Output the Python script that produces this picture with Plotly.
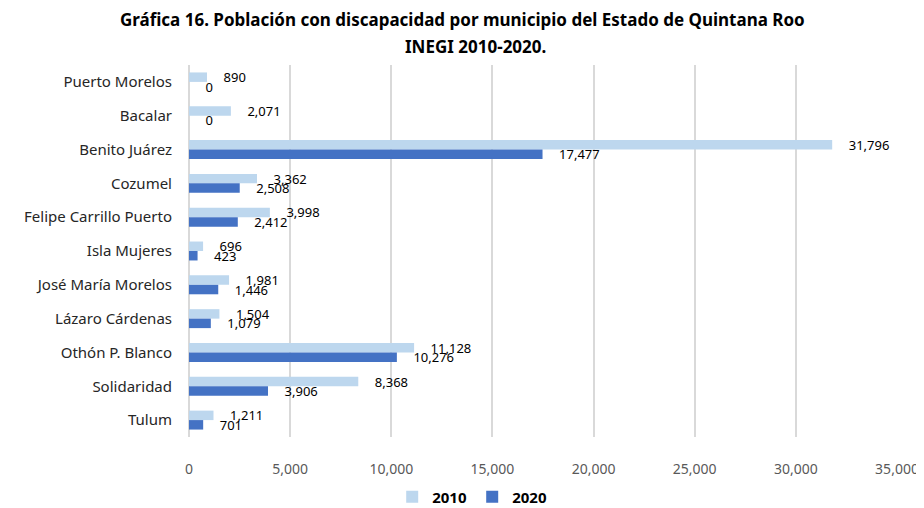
import plotly.graph_objects as go

# ── Data ──────────────────────────────────────────────────────────────────────
MUNICIPIOS = [
    "Puerto Morelos", "Bacalar", "Benito Juárez", "Cozumel",
    "Felipe Carrillo Puerto", "Isla Mujeres", "José María Morelos",
    "Lázaro Cárdenas", "Othón P. Blanco", "Solidaridad", "Tulum",
]
POB_2010 = [890, 2071, 31796, 3362, 3998, 696, 1981, 1504, 11128, 8368, 1211]
POB_2020 = [0, 0, 17477, 2508, 2412, 423, 1446, 1079, 10276, 3906, 701]

X_TICKS = [0, 5000, 10000, 15000, 20000, 25000, 30000, 35000]

# ── Colors ────────────────────────────────────────────────────────────────────
LIGHT = "#BDD7EE"
DARK = "#4472C4"
GRID = "#D9D9D9"
FONT = "Noto Sans"

# page body adds an 8px margin, so the figure is drawn 8px smaller
W, H = 916, 500
PAD = "\u00a0" * 4  # push value labels away from the bar end, like Excel

fig = go.Figure()
for name, vals, color in [("2010", POB_2010, LIGHT), ("2020", POB_2020, DARK)]:
    fig.add_trace(go.Bar(
        y=MUNICIPIOS, x=vals, name=name, orientation="h",
        marker=dict(color=color, line=dict(width=0)),
        text=[f"{PAD}{v:,}" for v in vals],
        textposition="outside", constraintext="none", cliponaxis=False,
        textfont=dict(family=FONT, size=13, color="#000000"),
    ))

fig.update_layout(
    width=W, height=H,
    paper_bgcolor="white", plot_bgcolor="white",
    font=dict(family=FONT, color="#262626", size=13),
    title=dict(
        text="<b>Gráfica 16. Población con discapacidad por municipio del Estado de Quintana Roo</b>",
        x=0.496, xanchor="center", yref="container", y=0.976, yanchor="middle",
        font=dict(family=FONT, size=17, color="#000000"),
    ),
    annotations=[dict(
        text="<b>INEGI 2010-2020.</b>", xref="paper", yref="paper",
        x=0.404, y=1.051, xanchor="center", yanchor="middle", showarrow=False,
        font=dict(family=FONT, size=17, color="#000000"),
    )],
    barmode="group", bargap=0.44, bargroupgap=0,
    margin=dict(l=181, r=27, t=57, b=71),
    xaxis=dict(
        range=[0, 35000], tickvals=X_TICKS, tickformat=",",
        showgrid=True, gridcolor=GRID, gridwidth=1.5,
        zeroline=True, zerolinecolor=GRID, zerolinewidth=1.5,
        tickfont=dict(size=14, color="#595959"), ticks="",
        showline=False, automargin=False, ticklabelstandoff=22,
    ),
    yaxis=dict(
        autorange="reversed", showgrid=False, zeroline=False,
        tickfont=dict(size=15, color="#262626"), ticks="",
        automargin=False, ticklabelstandoff=16,
    ),
    legend=dict(
        orientation="h", x=0.40, xanchor="center",
        yref="container", y=0.022, yanchor="middle",
        font=dict(family=FONT, size=15, color="#000000", weight="bold"),
        traceorder="normal", itemwidth=30, entrywidth=35,
    ),
)

fig.write_html("out.html")
